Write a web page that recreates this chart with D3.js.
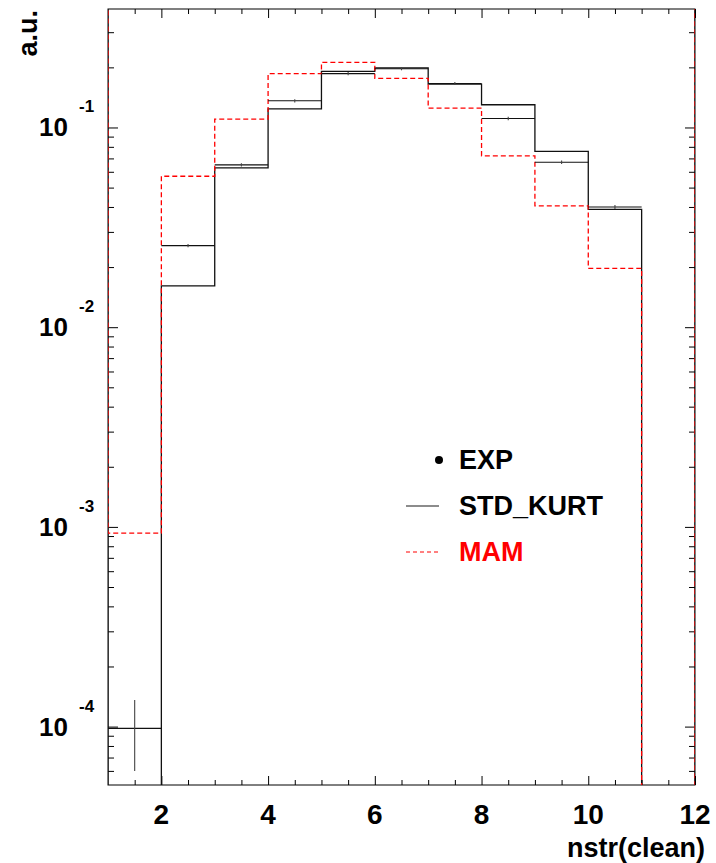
<!DOCTYPE html>
<html>
<head>
<meta charset="utf-8">
<script src="https://cdn.jsdelivr.net/npm/d3@7"></script>
<style>
  body { margin: 0; background: #fff; }
  text { font-family: "Liberation Sans", Arial, sans-serif; font-weight: bold; }
</style>
</head>
<body>
<div id="chart"></div>
<script>
// bin low edges, 0 = underflow, 12 = overflow
const binEdges = [0, 1, 2, 3, 4, 5, 6, 7, 8, 9, 10, 11, 12];

// bin contents (same order as binEdges)
const expValues = [0, 9.8e-5, 0.0256, 0.0650, 0.136, 0.186, 0.197, 0.166, 0.111, 0.067, 0.040, 0, 0];
const expErrors = [0, 3.8e-5, 5e-4, 1.2e-3, 2.5e-3, 3.5e-3, 3.6e-3, 3e-3, 2.2e-3, 1.4e-3, 9e-4, 0, 0];
const stdValues = [1, 0, 0.0161, 0.0627, 0.124, 0.191, 0.199, 0.165, 0.130, 0.076, 0.0389, 0, 1];
const mamValues = [1, 9.3e-4, 0.057, 0.110, 0.186, 0.212, 0.176, 0.125, 0.0721, 0.0405, 0.0197, 0, 1];

const xMajor = [2, 4, 6, 8, 10, 12];
const yMajor = [1e-4, 1e-3, 1e-2, 1e-1];

const legendItems = ["EXP", "STD_KURT", "MAM"];

const width = 716,
  height = 863,
  margin = {top: 9, right: 21, bottom: 78, left: 108};

const svg = d3.select("#chart")
  .append("svg")
  .attr("width", width)
  .attr("height", height);

const x = d3.scaleLinear([1, 12], [margin.left, width - margin.right]);
const y = d3.scaleLog([5.1e-5, 0.392], [height - margin.bottom, margin.top]);

// empty bins fall below the frame and get clipped
const yv = v => y(v > 0 ? v : 1e-6);

// minor ticks
const xMinor = d3.range(1.5, 12, 0.5).filter(d => d % 2 !== 0);
const yMinor = [];
for (let e = -5; e <= -1; e++) {
  for (let k = 2; k <= 9; k++) {
    const v = k * Math.pow(10, e);
    if (v > y.domain()[0] && v < y.domain()[1]) yMinor.push(v);
  }
}

svg.append("clipPath")
  .attr("id", "plot-clip")
  .append("rect")
  .attr("x", margin.left)
  .attr("y", margin.top)
  .attr("width", width - margin.left - margin.right)
  .attr("height", height - margin.top - margin.bottom);

// axes (ticks inside the frame, mirrored)
const noDomain = g => g.select(".domain").remove();

svg.append("g")
  .attr("transform", `translate(${margin.left},0)`)
  .call(d3.axisLeft(y).tickValues(yMinor).tickSize(-6).tickFormat(""))
  .call(noDomain);
svg.append("g")
  .attr("transform", `translate(${margin.left},0)`)
  .call(d3.axisLeft(y).tickValues(yMajor).tickSize(-10).tickFormat(""))
  .call(noDomain);
svg.append("g")
  .attr("transform", `translate(${width - margin.right},0)`)
  .call(d3.axisRight(y).tickValues(yMinor).tickSize(-6).tickFormat(""))
  .call(noDomain);
svg.append("g")
  .attr("transform", `translate(${width - margin.right},0)`)
  .call(d3.axisRight(y).tickValues(yMajor).tickSize(-10).tickFormat(""))
  .call(noDomain);

svg.append("g")
  .attr("transform", `translate(0,${height - margin.bottom})`)
  .call(d3.axisBottom(x).tickValues(xMinor).tickSize(-5).tickFormat(""))
  .call(noDomain);
svg.append("g")
  .attr("transform", `translate(0,${height - margin.bottom})`)
  .call(d3.axisBottom(x).tickValues(xMajor).tickSize(-9).tickFormat(""))
  .call(noDomain);
svg.append("g")
  .attr("transform", `translate(0,${margin.top})`)
  .call(d3.axisTop(x).tickValues(xMinor).tickSize(-5).tickFormat(""))
  .call(noDomain);
svg.append("g")
  .attr("transform", `translate(0,${margin.top})`)
  .call(d3.axisTop(x).tickValues(xMajor).tickSize(-9).tickFormat(""))
  .call(noDomain);

// frame
svg.append("rect")
  .attr("x", margin.left)
  .attr("y", margin.top)
  .attr("width", width - margin.left - margin.right)
  .attr("height", height - margin.top - margin.bottom)
  .attr("fill", "none")
  .attr("stroke", "#000")
  .attr("stroke-width", 1);

// tick labels
svg.append("g")
  .selectAll("text")
  .data(xMajor)
  .join("text")
  .attr("x", d => x(d))
  .attr("y", 824)
  .attr("text-anchor", "middle")
  .style("font-size", "28px")
  .text(d => d);

const yLab = svg.append("g")
  .selectAll("g")
  .data(yMajor)
  .join("g")
  .attr("transform", d => `translate(${margin.left},${y(d)})`);
yLab.append("text")
  .attr("x", -40)
  .attr("y", 9)
  .attr("text-anchor", "end")
  .style("font-size", "26px")
  .text("10");
yLab.append("text")
  .attr("x", -29)
  .attr("y", -15)
  .style("font-size", "17px")
  .text(d => "-" + Math.round(-Math.log10(d)));

// axis titles
svg.append("text")
  .attr("x", 705)
  .attr("y", 857)
  .attr("text-anchor", "end")
  .style("font-size", "27px")
  .text("nstr(clean)");

svg.append("text")
  .attr("transform", "translate(37,10) rotate(-90)")
  .attr("text-anchor", "end")
  .style("font-size", "27px")
  .text("a.u.");

// histograms
const plot = svg.append("g").attr("clip-path", "url(#plot-clip)");

const step = d3.line()
  .x(d => x(d[0]))
  .y(d => yv(d[1]))
  .curve(d3.curveStepAfter);

const histPoints = vals => binEdges.map((e, i) => [e, vals[i]])
  .concat([[binEdges[binEdges.length - 1] + 1, vals[vals.length - 1]]]);

plot.append("path")
  .datum(histPoints(stdValues))
  .attr("d", step)
  .attr("fill", "none")
  .attr("stroke", "#111")
  .attr("stroke-width", 1.3);

plot.append("path")
  .datum(histPoints(mamValues))
  .attr("d", step)
  .attr("fill", "none")
  .attr("stroke", "#ff0000")
  .attr("stroke-width", 1.3)
  .attr("stroke-dasharray", "5,3");

// EXP points: x-width bars + error bars
const expData = binEdges.map((e, i) => ({lo: e, v: expValues[i], err: expErrors[i]}))
  .filter(d => d.v > 0);

const expG = plot.append("g")
  .attr("stroke", "#111")
  .attr("stroke-width", 1.1);
expG.selectAll(".xbar")
  .data(expData)
  .join("line")
  .attr("class", "xbar")
  .attr("x1", d => x(d.lo))
  .attr("x2", d => x(d.lo + 1))
  .attr("y1", d => yv(d.v))
  .attr("y2", d => yv(d.v));
expG.selectAll(".ybar")
  .data(expData)
  .join("line")
  .attr("class", "ybar")
  .attr("x1", d => x(d.lo + 0.5))
  .attr("x2", d => x(d.lo + 0.5))
  .attr("y1", d => yv(d.v - d.err))
  .attr("y2", d => yv(d.v + d.err))
  .attr("stroke", "#444");

// legend
const legend = svg.append("g").attr("transform", "translate(406,460)");

legend.append("circle")
  .attr("cx", 33)
  .attr("cy", 0)
  .attr("r", 4)
  .attr("fill", "#000");
legend.append("line")
  .attr("x1", 0).attr("x2", 33)
  .attr("y1", 46).attr("y2", 46)
  .attr("stroke", "#666")
  .attr("stroke-width", 1.5);
legend.append("line")
  .attr("x1", 0).attr("x2", 33)
  .attr("y1", 92).attr("y2", 92)
  .attr("stroke", "#ff0000")
  .attr("stroke-width", 1)
  .attr("stroke-dasharray", "4,3");

legend.selectAll(".legend-label")
  .data(legendItems)
  .join("text")
  .attr("class", "legend-label")
  .attr("x", 53)
  .attr("y", (d, i) => 9 + i * 46)
  .attr("fill", d => d === "MAM" ? "#ff0000" : "#000")
  .style("font-size", "27px")
  .text(d => d);
</script>
</body>
</html>
